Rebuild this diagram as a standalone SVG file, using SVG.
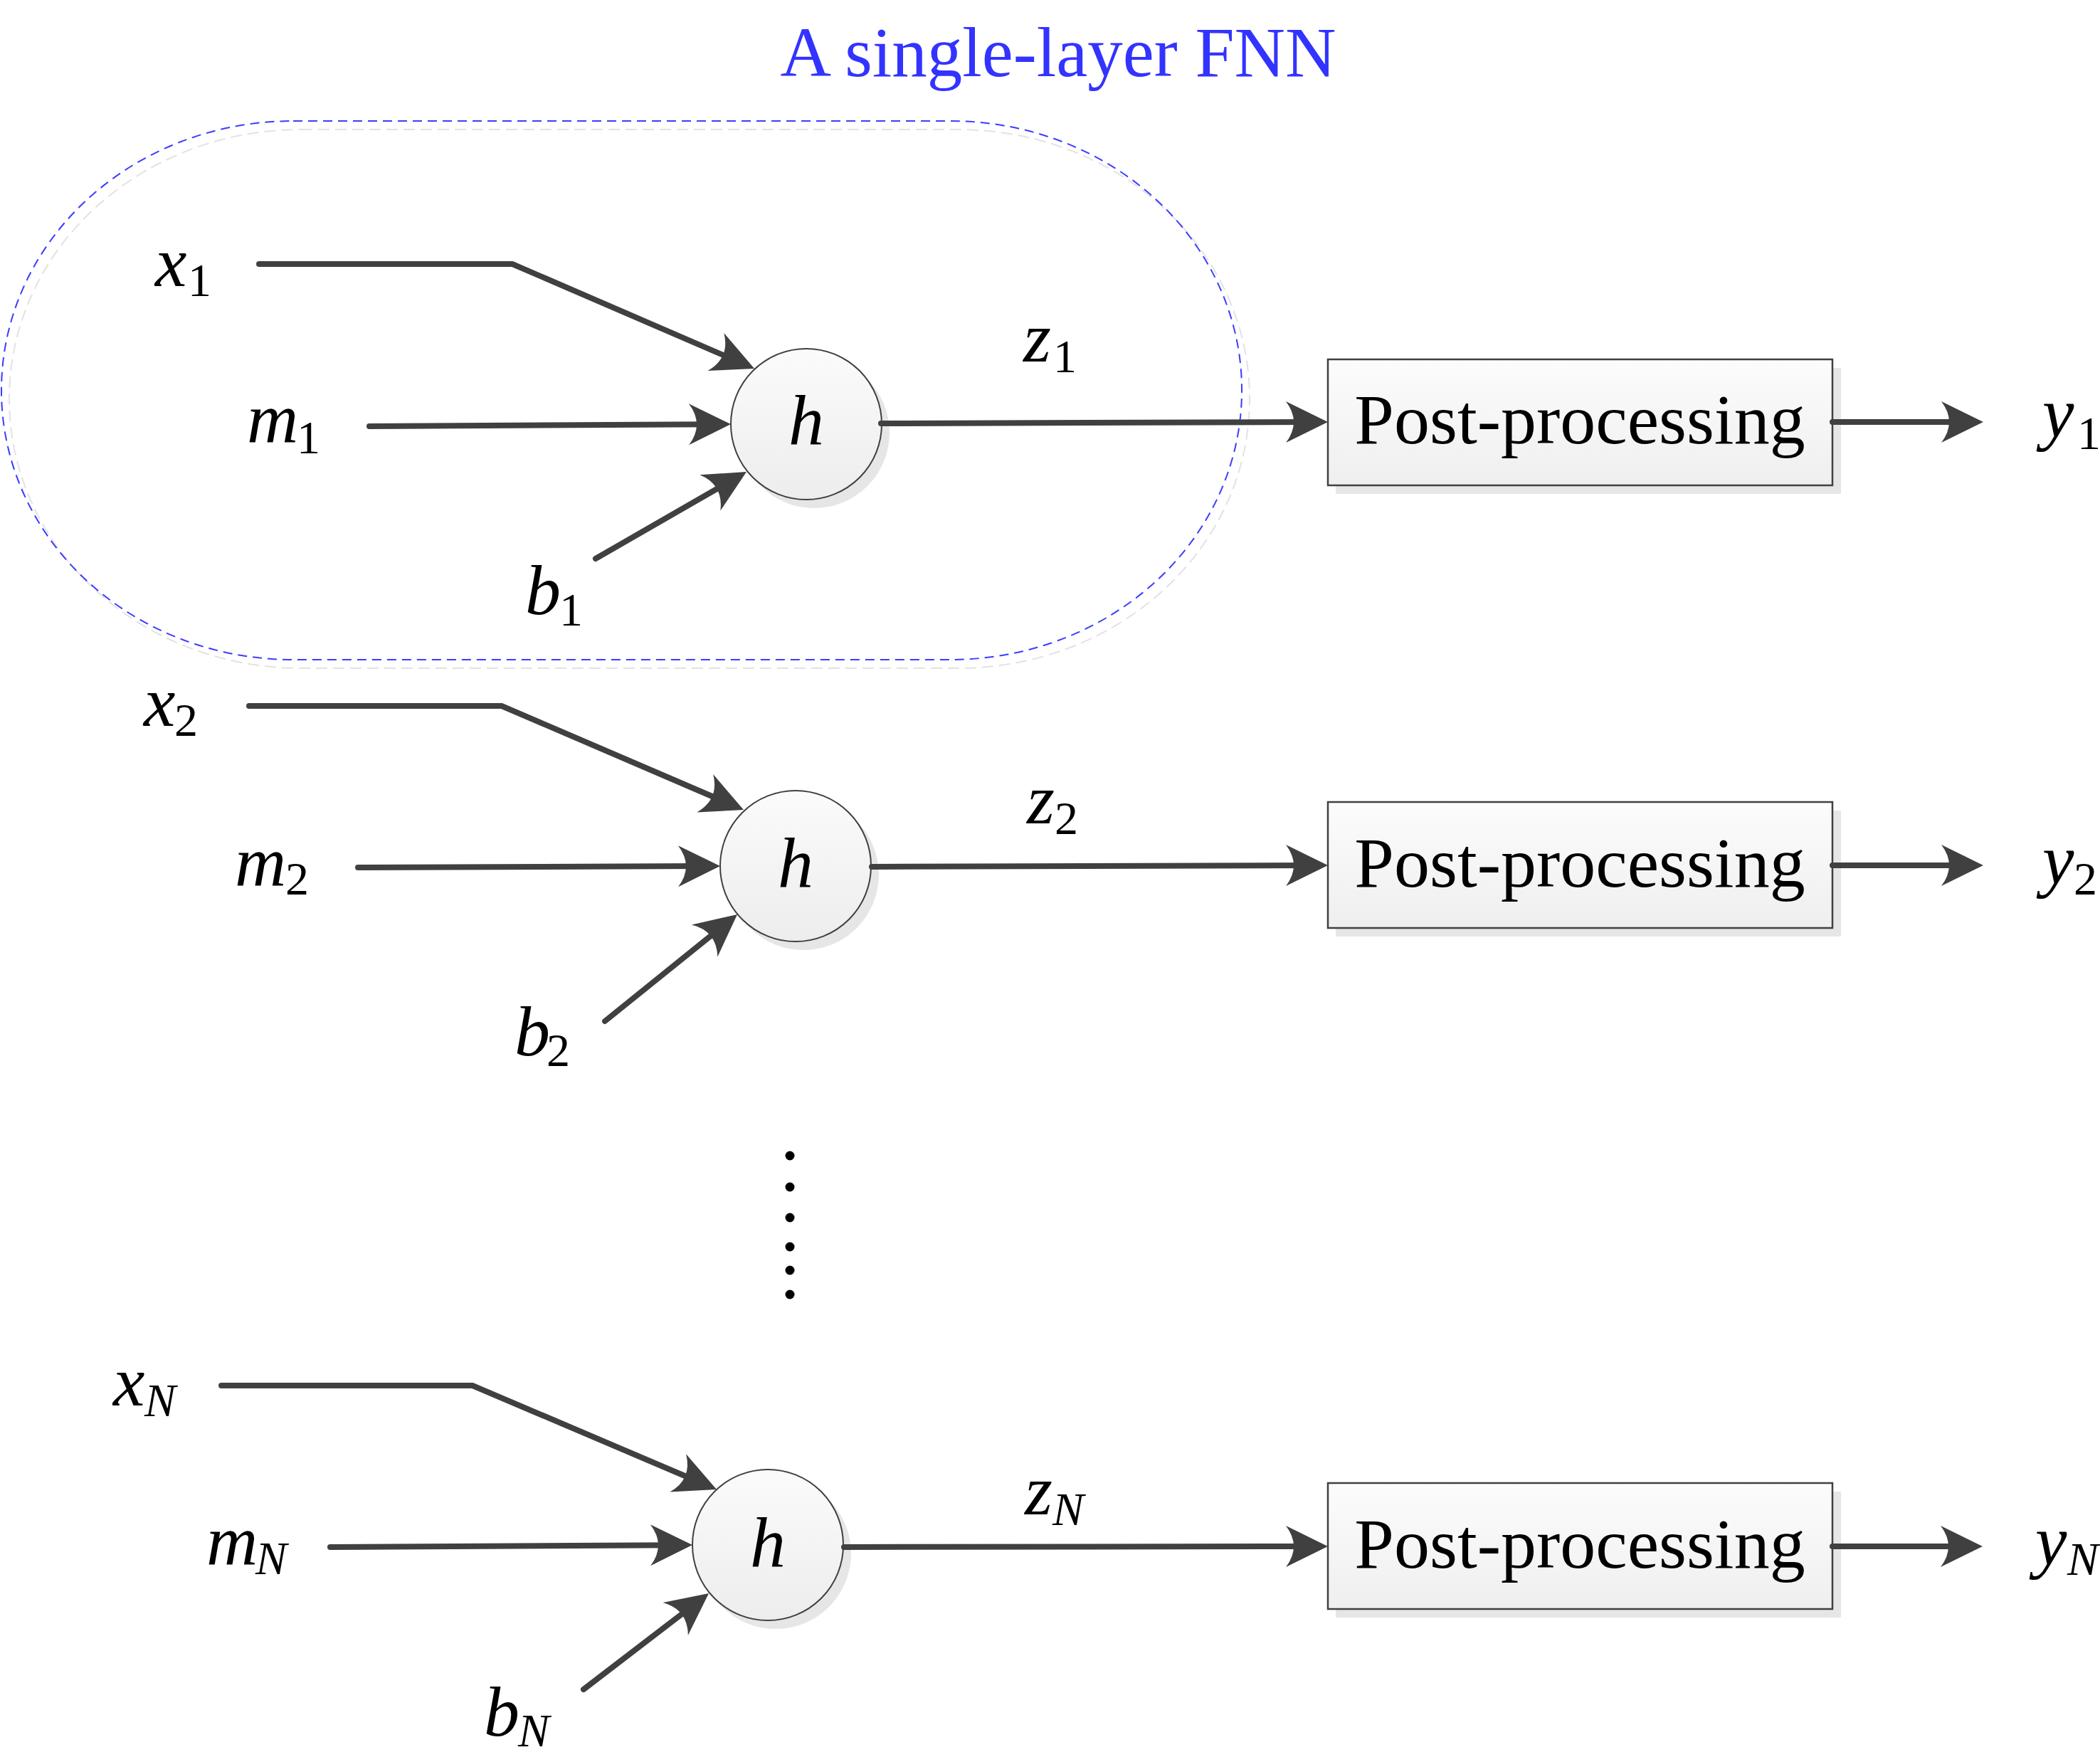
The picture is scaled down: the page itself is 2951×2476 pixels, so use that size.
<svg xmlns="http://www.w3.org/2000/svg" width="2951" height="2476" viewBox="0 0 2951 2476">
<style>
  .lbl{font-family:"Liberation Serif","Times New Roman",serif;font-size:100px;fill:#000}
  .v{font-style:italic}
  .sub{font-size:66px;font-style:normal}
  .subi{font-size:66px;font-style:italic}
  .h{font-family:"Liberation Serif","Times New Roman",serif;font-size:100px;font-style:italic;text-anchor:middle;fill:#000}
  .box-t{font-family:"Liberation Serif","Times New Roman",serif;font-size:100px;text-anchor:middle;fill:#000}
  .conn{fill:none;stroke:#404040;stroke-width:8;stroke-linecap:round;stroke-linejoin:miter;marker-end:url(#arr)}
  .node-c{fill:url(#gc);stroke:#404040;stroke-width:2}
  .shadow{fill:#e6e6e6}
  .box{fill:url(#gb);stroke:#404040;stroke-width:2.5}
</style>
<defs>
  <linearGradient id="gc" x1="0" y1="0" x2="0" y2="1">
    <stop offset="0" stop-color="#fbfbfb"/>
    <stop offset="1" stop-color="#ededed"/>
  </linearGradient>
  <linearGradient id="gb" x1="0" y1="0" x2="0" y2="1">
    <stop offset="0" stop-color="#fcfcfc"/>
    <stop offset="1" stop-color="#efefef"/>
  </linearGradient>
  <marker id="arr" markerUnits="userSpaceOnUse" viewBox="-62 -32 64 64" markerWidth="64" markerHeight="64" refX="-30" refY="0" orient="auto" overflow="visible">
    <path d="M0,0 L-59,-29 Q-37,0 -59,29 Z" fill="#404040"/>
  </marker>
</defs>

<text x="1487" y="107" font-family="Liberation Serif, Times New Roman, serif" font-size="99" fill="#3333ff" text-anchor="middle">A single-layer FNN</text>

<g id="fnn-region">
  <rect x="13" y="182" width="1743" height="757" rx="410" ry="378" fill="none" stroke="#e2e2e2" stroke-width="2" stroke-dasharray="16 8"/>
  <rect x="2" y="170" width="1743" height="757" rx="410" ry="378" fill="none" stroke="#3c3cff" stroke-width="2" stroke-dasharray="13 8"/>
</g>

<g id="h1">
  <circle class="shadow" cx="1144" cy="608" r="106"/>
  <circle class="node-c" cx="1133" cy="596" r="106"/>
  <text class="h" x="1133" y="624">h</text>
</g>
<g id="h2">
  <circle class="shadow" cx="1129" cy="1229" r="106"/>
  <circle class="node-c" cx="1118" cy="1217" r="106"/>
  <text class="h" x="1118" y="1246">h</text>
</g>
<g id="hN">
  <circle class="shadow" cx="1090" cy="2183" r="106"/>
  <circle class="node-c" cx="1079" cy="2171" r="106"/>
  <text class="h" x="1079" y="2201">h</text>
</g>

<g id="pp1">
  <rect class="shadow" x="1877" y="517" width="710" height="177"/>
  <rect class="box" x="1866" y="505" width="709" height="177"/>
  <text class="box-t" x="2220" y="623">Post-processing</text>
</g>
<g id="pp2">
  <rect class="shadow" x="1877" y="1139" width="710" height="177"/>
  <rect class="box" x="1866" y="1127" width="709" height="177"/>
  <text class="box-t" x="2220" y="1246">Post-processing</text>
</g>
<g id="ppN">
  <rect class="shadow" x="1877" y="2096" width="710" height="177"/>
  <rect class="box" x="1866" y="2084" width="709" height="177"/>
  <text class="box-t" x="2220" y="2203">Post-processing</text>
</g>

<g id="connectors">
  <path class="conn" d="M364,371 L720,371 L1032.5,506"/>
  <path class="conn" d="M519,599 L997,596.2"/>
  <path class="conn" d="M837,785 L1023,678"/>
  <path class="conn" d="M1238,595 L1836,593"/>
  <path class="conn" d="M2575,593 L2757,593"/>

  <path class="conn" d="M350,992 L705,992 L1017.4,1126.2"/>
  <path class="conn" d="M503,1219 L982,1217.1"/>
  <path class="conn" d="M850,1435 L1012.7,1303.8"/>
  <path class="conn" d="M1225,1218 L1836,1216"/>
  <path class="conn" d="M2575,1216 L2757,1216"/>

  <path class="conn" d="M311,1947 L664,1947 L979.4,2081.2"/>
  <path class="conn" d="M464,2174 L943,2171.2"/>
  <path class="conn" d="M820,2374 L972.2,2257.3"/>
  <path class="conn" d="M1186,2174 L1836,2173"/>
  <path class="conn" d="M2575,2173 L2756,2173"/>
</g>

<g id="labels">
  <text id="x1" class="lbl"><tspan class="v" x="218" y="402">x</tspan><tspan class="sub" x="264" y="416">1</tspan></text>
  <text id="m1" class="lbl"><tspan class="v" x="347" y="621">m</tspan><tspan class="sub" x="417" y="637">1</tspan></text>
  <text id="b1" class="lbl"><tspan class="v" x="738" y="863">b</tspan><tspan class="sub" x="786" y="879">1</tspan></text>
  <text id="z1" class="lbl"><tspan class="v" x="1438" y="508">z</tspan><tspan class="sub" x="1480" y="523">1</tspan></text>
  <text id="y1" class="lbl"><tspan class="v" x="2870" y="614">y</tspan><tspan class="sub" x="2919" y="631">1</tspan></text>

  <text id="x2" class="lbl"><tspan class="v" x="202" y="1020">x</tspan><tspan class="sub" x="245" y="1034">2</tspan></text>
  <text id="m2" class="lbl"><tspan class="v" x="330" y="1244">m</tspan><tspan class="sub" x="401" y="1257">2</tspan></text>
  <text id="b2" class="lbl"><tspan class="v" x="723" y="1483">b</tspan><tspan class="sub" x="768" y="1498">2</tspan></text>
  <text id="z2" class="lbl"><tspan class="v" x="1443" y="1157">z</tspan><tspan class="sub" x="1482" y="1172">2</tspan></text>
  <text id="y2" class="lbl"><tspan class="v" x="2870" y="1242">y</tspan><tspan class="sub" x="2914" y="1257">2</tspan></text>

  <text id="xN" class="lbl"><tspan class="v" x="159" y="1975">x</tspan><tspan class="subi" x="203" y="1990">N</tspan></text>
  <text id="mN" class="lbl"><tspan class="v" x="290" y="2198">m</tspan><tspan class="subi" x="359" y="2212">N</tspan></text>
  <text id="bN" class="lbl"><tspan class="v" x="680" y="2439">b</tspan><tspan class="subi" x="728" y="2454">N</tspan></text>
  <text id="zN" class="lbl"><tspan class="v" x="1440" y="2128">z</tspan><tspan class="subi" x="1479" y="2143">N</tspan></text>
  <text id="yN" class="lbl"><tspan class="v" x="2860" y="2199">y</tspan><tspan class="subi" x="2905" y="2213">N</tspan></text>
</g>

<g id="ellipsis">
  <circle cx="1110" cy="1624" r="6.5"/>
  <circle cx="1110" cy="1668" r="6.5"/>
  <circle cx="1110" cy="1711" r="6.5"/>
  <circle cx="1110" cy="1752" r="6.5"/>
  <circle cx="1110" cy="1785" r="6.5"/>
  <circle cx="1110" cy="1819" r="6.5"/>
</g>
</svg>
